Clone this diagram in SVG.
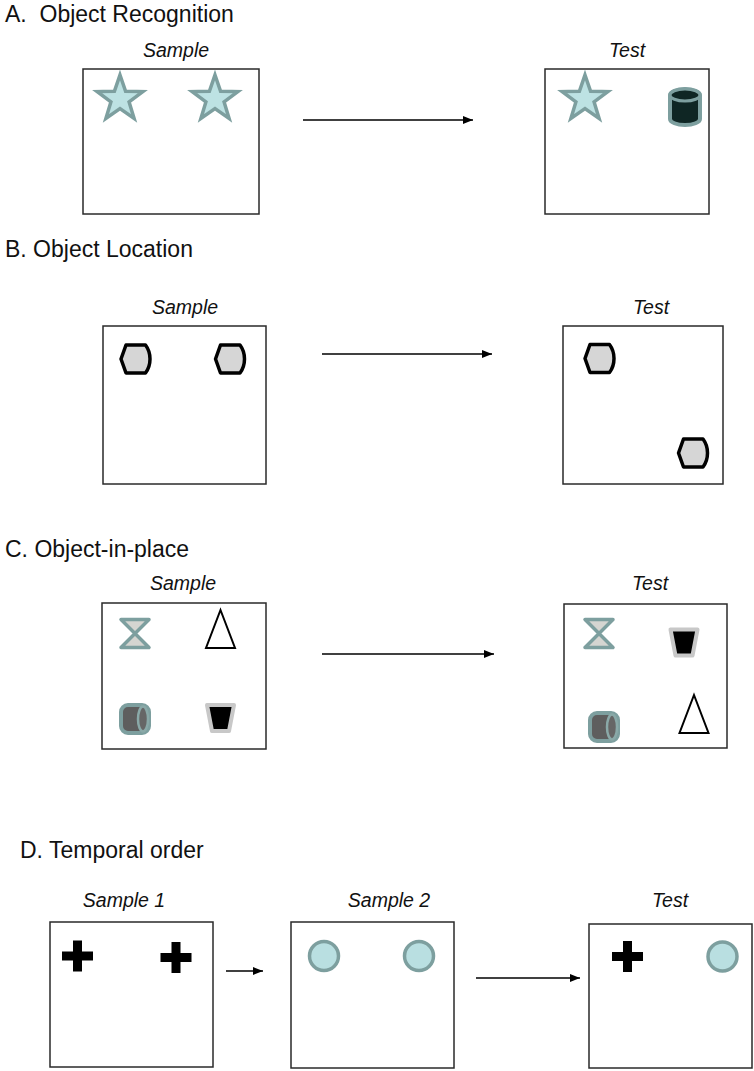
<svg xmlns="http://www.w3.org/2000/svg" width="754" height="1071" viewBox="0 0 754 1071">
<style>
.title{font-family:"Liberation Sans",Arial,sans-serif;font-size:23px;fill:#111}
.lbl{font-family:"Liberation Sans",Arial,sans-serif;font-size:19.5px;font-style:italic;fill:#111;text-anchor:middle}
.box{fill:#fff;stroke:#2a2a2a;stroke-width:1.5}
.star{fill:#bde2e3;stroke:#7d9f9f;stroke-width:3.5;stroke-linejoin:miter}
.hex{fill:#d6d6d6;stroke:#000;stroke-width:3.5;stroke-linejoin:round}
.hg{fill:#d5d5d1;stroke:#7d9f9f;stroke-width:3.5;stroke-linejoin:round}
.tri{fill:#fff;stroke:#000;stroke-width:2}
.trap{fill:#000;stroke:#c8c8c8;stroke-width:4;stroke-linejoin:round}
.cylb{fill:#5e5e5e;stroke:#7d9f9f;stroke-width:4}
.cyle{fill:#666;stroke:#8aa9a8;stroke-width:2.5}
.circ{fill:#b9dfe1;stroke:#7d9f9f;stroke-width:3.5}
.cross{fill:#000}
.arr{stroke:#000;stroke-width:1.3;fill:none;marker-end:url(#ah)}
</style>
<defs>
<marker id="ah" viewBox="0 0 10 8" refX="10" refY="4" markerWidth="10" markerHeight="8" markerUnits="userSpaceOnUse" orient="auto">
<path d="M0,0 L10,4 L0,8 Z" fill="#000"/>
</marker>
<polygon id="starShape" points="0,-24 5.6,-7.7 22.8,-7.4 9.1,2.9 14.1,19.4 0,9.6 -14.1,19.4 -9.1,2.9 -22.8,-7.4 -5.6,-7.7"/>
<path id="hexShape" d="M-9.5,-14 L10,-14 Q14.5,-8 14.5,0 Q14.5,8 10,14 L-9.5,14 L-14.5,0 Z"/>
<polygon id="hgShape" points="-14,-14 14,-14 0,0 14,14 -14,14 0,0"/>
<polygon id="triShape" points="0,-19 14.5,19 -14.5,19"/>
<polygon id="trapShape" points="-13.5,-13 13.5,-13 8.5,13 -8.5,13"/>
<path id="crossShape" d="M-4.5,-15.5 H4.5 V-4.5 H15.5 V4.5 H4.5 V15.5 H-4.5 V4.5 H-15.5 V-4.5 H-4.5 Z"/>
<g id="hcyl">
<rect x="-14" y="-14" width="28" height="28" rx="7" class="cylb"/>
<ellipse cx="8" cy="0" rx="5" ry="12.5" class="cyle"/>
</g>
</defs>

<g id="sectionA">
<text class="title" x="5" y="22" xml:space="preserve">A.  Object Recognition</text>
<g id="A-sample">
<text class="lbl" x="176" y="57">Sample</text>
<rect class="box" x="83" y="69" width="176" height="145"/>
<use href="#starShape" class="star" x="120" y="99"/>
<use href="#starShape" class="star" x="215" y="99"/>
</g>
<g id="A-test">
<text class="lbl" x="627" y="57">Test</text>
<rect class="box" x="545" y="69" width="164" height="145"/>
<use href="#starShape" class="star" x="585" y="99"/>
<path d="M670,95 L670,119 A15,6 0 0 0 700,119 L700,95 A15,6 0 0 0 670,95 Z" fill="#0f2624" stroke="#7d9f9f" stroke-width="4"/>
<ellipse cx="685" cy="95" rx="15" ry="6" fill="#0f2624" stroke="#7d9f9f" stroke-width="3"/>
</g>
</g>

<g id="sectionB">
<text class="title" x="5" y="257">B. Object Location</text>
<g id="B-sample">
<text class="lbl" x="185" y="314">Sample</text>
<rect class="box" x="103" y="326" width="163" height="158"/>
<use href="#hexShape" class="hex" x="135.5" y="359"/>
<use href="#hexShape" class="hex" x="230" y="359"/>
</g>
<g id="B-test">
<text class="lbl" x="651" y="314">Test</text>
<rect class="box" x="563" y="326" width="160" height="158"/>
<use href="#hexShape" class="hex" x="599.5" y="358.5"/>
<use href="#hexShape" class="hex" x="693" y="453"/>
</g>
</g>

<g id="sectionC">
<text class="title" x="5" y="557">C. Object-in-place</text>
<g id="C-sample">
<text class="lbl" x="183" y="590">Sample</text>
<rect class="box" x="102" y="603" width="164" height="146"/>
<use href="#hgShape" class="hg" x="135" y="633.5"/>
<use href="#triShape" class="tri" x="220.5" y="629"/>
<use href="#hcyl" x="135" y="719"/>
<use href="#trapShape" class="trap" x="220.5" y="718"/>
</g>
<g id="C-test">
<text class="lbl" x="650" y="590">Test</text>
<rect class="box" x="564" y="604" width="163" height="144"/>
<use href="#hgShape" class="hg" x="599" y="633.5"/>
<use href="#trapShape" class="trap" x="684" y="642.5"/>
<use href="#hcyl" x="604" y="727"/>
<use href="#triShape" class="tri" x="694" y="714"/>
</g>
</g>

<g id="sectionD">
<text class="title" x="20" y="858">D. Temporal order</text>
<g id="D-sample1">
<text class="lbl" x="124" y="907">Sample 1</text>
<rect class="box" x="50" y="922" width="163" height="145"/>
<use href="#crossShape" class="cross" x="77.5" y="956"/>
<use href="#crossShape" class="cross" x="176" y="957.5"/>
</g>
<g id="D-sample2">
<text class="lbl" x="389" y="907">Sample 2</text>
<rect class="box" x="291" y="922" width="163" height="146"/>
<circle class="circ" cx="324" cy="956" r="14.5"/>
<circle class="circ" cx="419" cy="956" r="14.5"/>
</g>
<g id="D-test">
<text class="lbl" x="670" y="907">Test</text>
<rect class="box" x="589" y="924" width="163" height="144"/>
<use href="#crossShape" class="cross" x="627.5" y="956.5"/>
<circle class="circ" cx="722.5" cy="956.5" r="14.5"/>
</g>
</g>

<g id="connectors">
<line class="arr" x1="303" y1="120" x2="473" y2="120"/>
<line class="arr" x1="322" y1="354" x2="492" y2="354"/>
<line class="arr" x1="322" y1="654" x2="494" y2="654"/>
<line class="arr" x1="226" y1="971" x2="263" y2="971"/>
<line class="arr" x1="476" y1="978" x2="580" y2="978"/>
</g>
</svg>
